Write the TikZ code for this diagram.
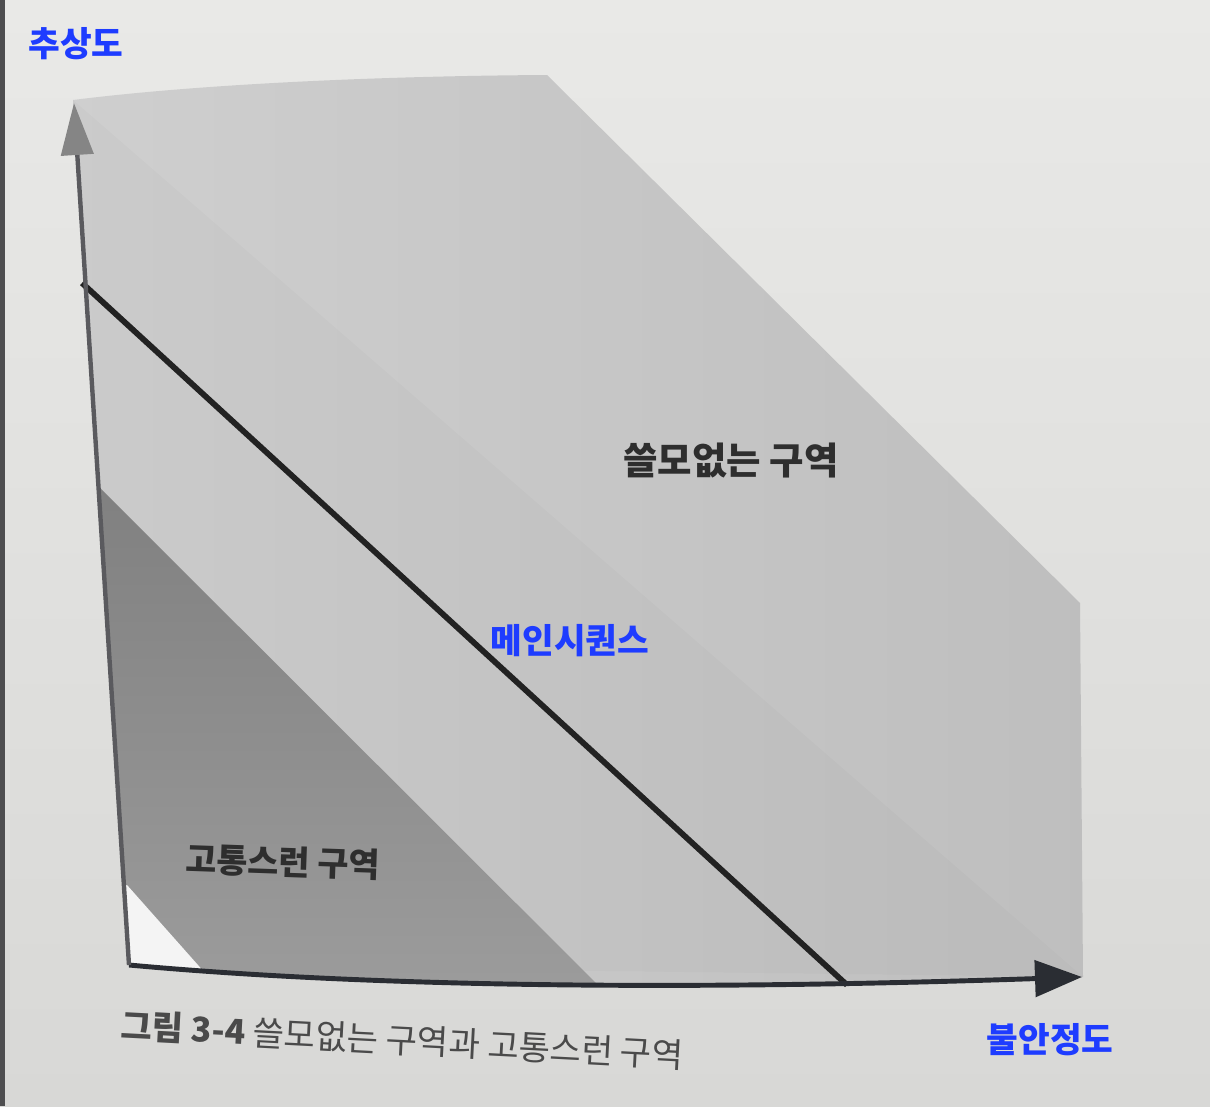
\documentclass[tikz,border=0pt]{standalone}
\usepackage{fontspec}
\newfontfamily\kr{Noto Sans CJK KR}
\usetikzlibrary{arrows.meta}
\definecolor{pagetop}{HTML}{E9E9E7}
\definecolor{pagebot}{HTML}{D8D8D6}
\definecolor{stripcol}{HTML}{4E4E50}
\definecolor{zonelight}{HTML}{D0D0D0}
\definecolor{zonedark}{HTML}{BEBEBE}
\definecolor{painA}{HTML}{808080}
\definecolor{painB}{HTML}{9E9E9E}
\definecolor{cornerwhite}{HTML}{F4F4F4}
\definecolor{labelblue}{HTML}{1E3CFF}
\definecolor{labeldark}{HTML}{2E2E2E}
\definecolor{captiongray}{HTML}{4A4A4A}
\definecolor{yaxiscol}{HTML}{5A5A5E}
\definecolor{yarrowcol}{HTML}{858585}
\definecolor{xaxiscol}{HTML}{2A2D33}
\definecolor{maincol}{HTML}{222222}
\begin{document}
\begin{tikzpicture}[x=0.02cm,y=-0.02cm,
  bluelabel/.style={font=\kr\bfseries\fontsize{19.6pt}{22pt}\selectfont, text=labelblue, inner sep=0pt},
  zonelabel/.style={font=\kr\bfseries\fontsize{21.3pt}{24pt}\selectfont, text=labeldark, inner sep=0pt},
  painlabel/.style={font=\kr\bfseries\fontsize{19.2pt}{22pt}\selectfont, text=labeldark, inner sep=0pt},
  captionlabel/.style={font=\kr\fontsize{19.4pt}{22pt}\selectfont, text=captiongray, inner sep=0pt},
  yaxis/.style={draw=yaxiscol, line width=2.5pt,
    -{Triangle[length=1.04cm,width=0.64cm,fill=yarrowcol,color=yarrowcol]}},
  xaxis/.style={draw=xaxiscol, line width=2.8pt,
    -{Triangle[length=0.94cm,width=0.72cm,fill=xaxiscol,color=xaxiscol]}},
  mainseq/.style={draw=maincol, line width=3.3pt}
]
\useasboundingbox (0,0) rectangle (1210,1106);
% page
\shade[top color=pagetop, bottom color=pagebot] (0,0) rectangle (1210,1106);
\fill[stripcol] (0,0) rectangle (5,1106);

% named points
\coordinate (O) at (129,965);
\coordinate (Ytip) at (74,103);
\coordinate (Xtip) at (1082,977);
\coordinate (MSy) at (82,283);
\coordinate (MSx) at (847,985);

% shaded zones
\begin{scope}
  \clip (73,100) .. controls (200,84) and (380,76) .. (547,75) -- (1080,603)
        -- (1083,977) .. controls (700,990) and (380,988) .. (129,965) -- cycle;
  \shade[left color=zonelight, right color=zonedark] (0,60) rectangle (1100,1000);
  \fill[black, opacity=0.015] (73,100) -- (1083,977) -- (129,965) -- cycle;
  \shade[top color=painA, bottom color=painB]
        (0,483) -- (95,483) -- (650,1037) -- (0,1037) -- cycle;
  \fill[cornerwhite] (0,885) -- (127,885) -- (229,1000) -- (0,1000) -- cycle;
\end{scope}

% main sequence
\draw[mainseq] (MSy) -- (MSx);

% axes
\draw[xaxis] (O) .. controls (380,988) and (700,990) .. (Xtip);
\draw[yaxis] (O) -- (Ytip);

% labels
\node[bluelabel] (abs) at (76,44) {추상도};
\node[bluelabel] (inst) at (1050,1040) {불안정도};
\node[bluelabel] (ms) at (570,641) {메인시퀀스};
\node[zonelabel] (useless) at (731,460) {쓸모없는 구역};
\node[painlabel, rotate=-2] (pain) at (283,862) {고통스런 구역};
\node[captionlabel, rotate=-3] (cap) at (402,1040) {{\bfseries 그림 3-4} 쓸모없는 구역과 고통스런 구역};
\end{tikzpicture}
\end{document}
